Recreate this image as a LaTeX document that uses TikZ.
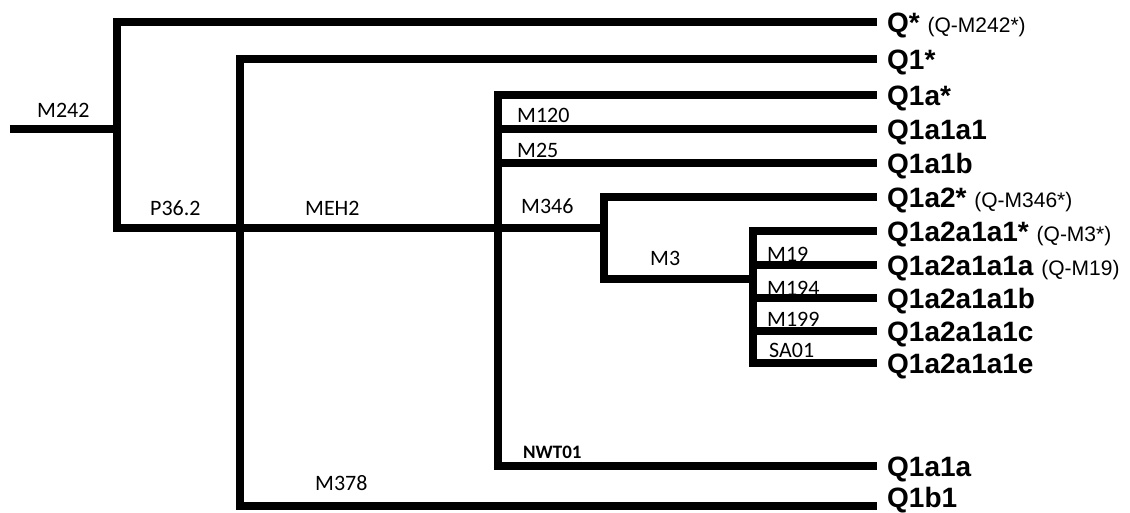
\documentclass[tikz,border=0pt]{standalone}
\usepackage{fontspec}
\setmainfont{Carlito}
\newfontfamily\arialfont{Liberation Sans}
\usetikzlibrary{positioning}
\newcommand{\alias}[1]{{\fontsize{21}{21}\selectfont\mdseries #1}}

\tikzset{
  branch/.style={line width=7.5pt, line join=miter},
  mut/.style={font=\fontsize{22}{22}\selectfont, anchor=base west, inner sep=0pt},
  mutb/.style={font=\bfseries\fontsize{19}{19}\selectfont, anchor=base west, inner sep=0pt},
  hap/.style={font=\arialfont\bfseries\fontsize{28}{28}\selectfont, anchor=base west, inner sep=0pt, xshift=10pt, yshift=-10pt}
}

\begin{document}
\begin{tikzpicture}[x=1pt,y=-1pt]
  \useasboundingbox (0,0) rectangle (1130,512);
  % junctions
  \coordinate (root) at (10,129);
  \coordinate (jM242) at (117,129);
  \coordinate (jP36) at (240,228);
  \coordinate (jMEH2) at (498,228);
  \coordinate (jM346) at (604,228);
  \coordinate (jM3) at (753,279);
  % tips
  \coordinate (tQ) at (877,22);
  \coordinate (tQ1) at (877,59);
  \coordinate (tQ1a) at (877,95);
  \coordinate (tQ1a1a1) at (877,129);
  \coordinate (tQ1a1b) at (877,163);
  \coordinate (tQ1a2) at (877,197);
  \coordinate (tQ1a2a1a1) at (877,231);
  \coordinate (tQ1a2a1a1a) at (877,265);
  \coordinate (tQ1a2a1a1b) at (877,298);
  \coordinate (tQ1a2a1a1c) at (877,331);
  \coordinate (tQ1a2a1a1e) at (877,363);
  \coordinate (tQ1a1a) at (877,466);
  \coordinate (tQ1b1) at (877,506);

  \draw[branch] (root) -- (jM242);
  \draw[branch] (tQ) -| (jM242) |- (jP36);
  \draw[branch] (tQ1) -| (jP36) |- (tQ1b1);
  \draw[branch] (jP36) -- (jMEH2);
  \draw[branch] (tQ1a) -| (jMEH2) |- (tQ1a1a);
  \draw[branch] (jMEH2) |- (tQ1a1a1);
  \draw[branch] (jMEH2) |- (tQ1a1b);
  \draw[branch] (jMEH2) -- (jM346);
  \draw[branch] (tQ1a2) -| (jM346) |- (jM3);
  \draw[branch] (tQ1a2a1a1) -| (jM3) |- (tQ1a2a1a1e);
  \draw[branch] (jM3) |- (tQ1a2a1a1a);
  \draw[branch] (jM3) |- (tQ1a2a1a1b);
  \draw[branch] (jM3) |- (tQ1a2a1a1c);

  % mutations
  \node[mut] (lM242) at (37,117) {M242};
  \node[mut] (lP36) at (150,215) {P36.2};
  \node[mut] (lMEH2) at (305,215) {MEH2};
  \node[mut] (lM378) at (315,490) {M378};
  \node[mut] (lM120) at (517,122) {M120};
  \node[mut] (lM25) at (517,157) {M25};
  \node[mut] (lM346) at (521,213) {M346};
  \node[mut] (lM3) at (650,265) {M3};
  \node[mut] (lM19) at (767,261) {M19};
  \node[mut] (lM194) at (767,295) {M194};
  \node[mut] (lM199) at (767,326) {M199};
  \node[mut] (lSA01) at (769,357) {SA01};
  \node[mutb] (lNWT01) at (523,458) {NWT01};

  % haplogroups
  \node[hap] (hQ) at (tQ) {Q* \alias{(Q-M242*)}};
  \node[hap] (hQ1) at (tQ1) {Q1*};
  \node[hap] (hQ1a) at (tQ1a) {Q1a*};
  \node[hap] (hQ1a1a1) at (tQ1a1a1) {Q1a1a1};
  \node[hap] (hQ1a1b) at (tQ1a1b) {Q1a1b};
  \node[hap] (hQ1a2) at (tQ1a2) {Q1a2* \alias{(Q-M346*)}};
  \node[hap] (hQ1a2a1a1) at (tQ1a2a1a1) {Q1a2a1a1* \alias{(Q-M3*)}};
  \node[hap] (hQ1a2a1a1a) at (tQ1a2a1a1a) {Q1a2a1a1a \alias{(Q-M19)}};
  \node[hap] (hQ1a2a1a1b) at (tQ1a2a1a1b) {Q1a2a1a1b};
  \node[hap] (hQ1a2a1a1c) at (tQ1a2a1a1c) {Q1a2a1a1c};
  \node[hap] (hQ1a2a1a1e) at (tQ1a2a1a1e) {Q1a2a1a1e};
  \node[hap] (hQ1a1a) at (tQ1a1a) {Q1a1a};
  \node[hap, yshift=9pt] (hQ1b1) at (tQ1b1) {Q1b1};
\end{tikzpicture}
\end{document}
